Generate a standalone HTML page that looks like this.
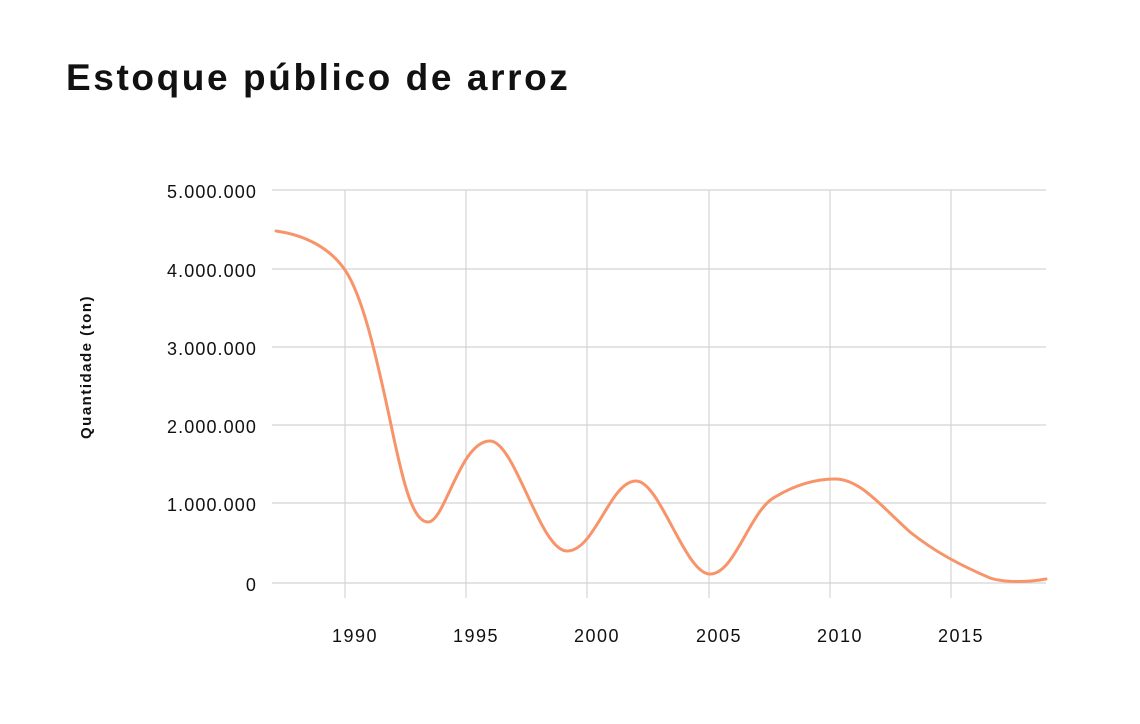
<!DOCTYPE html>
<html><head><meta charset="utf-8"><style>
body{margin:0;background:#fff;font-family:"Liberation Sans",sans-serif;}
</style></head><body>
<svg width="1140" height="719" xmlns="http://www.w3.org/2000/svg" font-family="Liberation Sans, sans-serif">
<rect width="1140" height="719" fill="#fff"/>
<text x="66" y="90" font-size="37" font-weight="bold" fill="#111" letter-spacing="2.6">Estoque público de arroz</text>
<g stroke="#d4d4d4" stroke-width="1.2">
<line x1="272" x2="1046" y1="190" y2="190"/>
<line x1="272" x2="1046" y1="269" y2="269"/>
<line x1="272" x2="1046" y1="347" y2="347"/>
<line x1="272" x2="1046" y1="425" y2="425"/>
<line x1="272" x2="1046" y1="503" y2="503"/>
<line x1="272" x2="1046" y1="583" y2="583"/>
<line x1="345" x2="345" y1="190" y2="598"/>
<line x1="466" x2="466" y1="190" y2="598"/>
<line x1="587" x2="587" y1="190" y2="598"/>
<line x1="709" x2="709" y1="190" y2="598"/>
<line x1="830" x2="830" y1="190" y2="598"/>
<line x1="951" x2="951" y1="190" y2="598"/>
</g>
<g font-size="18" fill="#111" text-anchor="end" letter-spacing="1.1">
<text x="257" y="198">5.000.000</text>
<text x="257" y="277">4.000.000</text>
<text x="257" y="355">3.000.000</text>
<text x="257" y="433">2.000.000</text>
<text x="257" y="511">1.000.000</text>
<text x="257" y="591">0</text>
</g>
<g font-size="18" fill="#111" text-anchor="middle" letter-spacing="1.5">
<text x="355" y="642">1990</text>
<text x="476" y="642">1995</text>
<text x="597" y="642">2000</text>
<text x="719" y="642">2005</text>
<text x="840" y="642">2010</text>
<text x="961" y="642">2015</text>
</g>
<text transform="translate(91,367) rotate(-90)" font-size="15" font-weight="bold" fill="#111" text-anchor="middle" letter-spacing="1.5">Quantidade (ton)</text>
<path fill="none" stroke="#f7946a" stroke-width="3" stroke-linecap="round"
d="M276,231 C305,235 330,248 345,270 C362,295 375,350 390,420 C402,478 412,522 428,522 C445,522 460,441 490,441 C515,441 540,551 567,551 C595,551 610,481 636,481 C660,481 685,574 710,574 C735,574 750,510 775,497 C795,485 815,479 835,479 C860,479 880,505 910,532 C935,552 960,565 990,578 C1005,583 1030,582 1046,579"/>
</svg>
</body></html>
